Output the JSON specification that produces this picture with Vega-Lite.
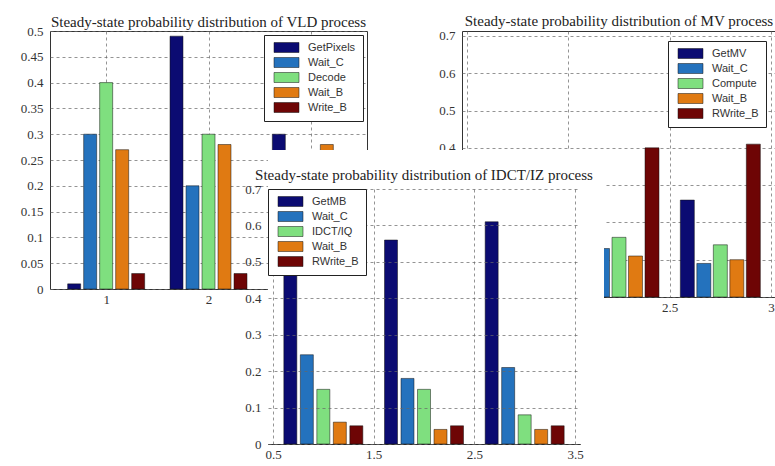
{
  "$schema": "https://vega.github.io/schema/vega-lite/v6.json",
  "background": "white",
  "padding": {"left": 19, "top": 13, "right": 0, "bottom": 0},
  "datasets": {
    "vld": [
      {"group": 1, "state": "GetPixels", "p": 0.01},
      {"group": 1, "state": "Wait_C", "p": 0.30},
      {"group": 1, "state": "Decode", "p": 0.40},
      {"group": 1, "state": "Wait_B", "p": 0.27},
      {"group": 1, "state": "Write_B", "p": 0.03},
      {"group": 2, "state": "GetPixels", "p": 0.49},
      {"group": 2, "state": "Wait_C", "p": 0.20},
      {"group": 2, "state": "Decode", "p": 0.30},
      {"group": 2, "state": "Wait_B", "p": 0.28},
      {"group": 2, "state": "Write_B", "p": 0.03},
      {"group": 3, "state": "GetPixels", "p": 0.30},
      {"group": 3, "state": "Wait_C", "p": 0.19},
      {"group": 3, "state": "Decode", "p": 0.20},
      {"group": 3, "state": "Wait_B", "p": 0.28},
      {"group": 3, "state": "Write_B", "p": 0.03}
    ],
    "mv": [
      {"group": 2.25, "state": "GetMV", "p": 0.28},
      {"group": 2.25, "state": "Wait_C", "p": 0.13},
      {"group": 2.25, "state": "Compute", "p": 0.16},
      {"group": 2.25, "state": "Wait_B", "p": 0.11},
      {"group": 2.25, "state": "RWrite_B", "p": 0.40},
      {"group": 2.75, "state": "GetMV", "p": 0.26},
      {"group": 2.75, "state": "Wait_C", "p": 0.09},
      {"group": 2.75, "state": "Compute", "p": 0.14},
      {"group": 2.75, "state": "Wait_B", "p": 0.10},
      {"group": 2.75, "state": "RWrite_B", "p": 0.41}
    ],
    "idct": [
      {"group": 1, "state": "GetMB", "p": 0.48},
      {"group": 1, "state": "Wait_C", "p": 0.245},
      {"group": 1, "state": "IDCT/IQ", "p": 0.15},
      {"group": 1, "state": "Wait_B", "p": 0.06},
      {"group": 1, "state": "RWrite_B", "p": 0.05},
      {"group": 2, "state": "GetMB", "p": 0.56},
      {"group": 2, "state": "Wait_C", "p": 0.18},
      {"group": 2, "state": "IDCT/IQ", "p": 0.15},
      {"group": 2, "state": "Wait_B", "p": 0.04},
      {"group": 2, "state": "RWrite_B", "p": 0.05},
      {"group": 3, "state": "GetMB", "p": 0.61},
      {"group": 3, "state": "Wait_C", "p": 0.21},
      {"group": 3, "state": "IDCT/IQ", "p": 0.08},
      {"group": 3, "state": "Wait_B", "p": 0.04},
      {"group": 3, "state": "RWrite_B", "p": 0.05}
    ]
  },
  "config": {
    "view": {"stroke": "#333", "strokeWidth": 1, "fill": "white"},
    "axis": {
      "labelFont": "Liberation Serif",
      "labelFontSize": 13,
      "labelColor": "#333",
      "domain": false,
      "ticks": false,
      "tickSize": 0,
      "grid": true,
      "gridColor": "#666",
      "gridDash": [3, 3],
      "gridOpacity": 0.7,
      "title": null
    },
    "axisY": {"labelPadding": 7},
    "axisX": {"labelPadding": 4},
    "title": {"font": "Liberation Serif", "fontSize": 15, "fontWeight": "normal", "color": "#222", "frame": "group"},
    "legend": {
      "labelFont": "Liberation Sans",
      "labelFontSize": 11,
      "labelColor": "#333",
      "fillColor": "white",
      "strokeColor": "#222",
      "padding": 7,
      "rowPadding": 2,
      "symbolOpacity": 1,
      "symbolStrokeColor": "#111",
      "symbolStrokeWidth": 0.5
    }
  },
  "bounds": "flush",
  "spacing": 158,
  "resolve": {"scale": {"color": "independent"}, "legend": {"color": "independent"}},
  "vconcat": [
    {
      "spacing": 70,
      "resolve": {"scale": {"color": "independent"}, "legend": {"color": "independent"}},
      "hconcat": [
        {
          "width": 317,
          "height": 258,
          "title": {"text": "Steady-state probability distribution of VLD process", "offset": -5},
          "data": {"name": "vld"},
          "encoding": {
            "x": {"field": "group", "type": "quantitative", "scale": {"domain": [0.5, 3.5], "nice": false, "zero": false}, "axis": {"values": [1, 2, 3], "format": "d"}},
            "y": {"field": "p", "type": "quantitative", "scale": {"domain": [0, 0.5], "nice": false}, "axis": {"values": [0, 0.05, 0.1, 0.15, 0.2, 0.25, 0.3, 0.35, 0.4, 0.45, 0.5], "format": ".2~f"}},
            "color": {
              "field": "state", "type": "nominal",
              "scale": {"domain": ["GetPixels", "Wait_C", "Decode", "Wait_B", "Write_B"], "range": ["#0b0b72", "#2472bd", "#7fdf7f", "#e07a12", "#6e0505"]},
              "legend": {"title": null, "orient": "top-right", "offset": 4, "symbolType": "M-2.5,-1H2.5V1H-2.5Z", "symbolSize": 100, "symbolOffset": 10, "labelOffset": 16}
            }
          },
          "layer": [
            {"transform": [{"filter": "datum.state == 'GetPixels'"}], "mark": {"type": "bar", "orient": "vertical", "size": 13, "xOffset": -32, "stroke": "#111", "strokeWidth": 0.5}},
            {"transform": [{"filter": "datum.state == 'Wait_C'"}], "mark": {"type": "bar", "orient": "vertical", "size": 13, "xOffset": -16, "stroke": "#111", "strokeWidth": 0.5}},
            {"transform": [{"filter": "datum.state == 'Decode'"}], "mark": {"type": "bar", "orient": "vertical", "size": 13, "xOffset": 0, "stroke": "#111", "strokeWidth": 0.5}},
            {"transform": [{"filter": "datum.state == 'Wait_B'"}], "mark": {"type": "bar", "orient": "vertical", "size": 13, "xOffset": 16, "stroke": "#111", "strokeWidth": 0.5}},
            {"transform": [{"filter": "datum.state == 'Write_B'"}], "mark": {"type": "bar", "orient": "vertical", "size": 13, "xOffset": 32, "stroke": "#111", "strokeWidth": 0.5}}
          ]
        },
        {
          "width": 314,
          "height": 266,
          "title": {"text": "Steady-state probability distribution of MV process", "offset": 1},
          "data": {"name": "mv"},
          "encoding": {
            "x": {"field": "group", "type": "quantitative", "scale": {"domain": [1.5, 3], "nice": false, "zero": false}, "axis": {"values": [1.5, 2, 2.5, 3], "format": "~g", "labelExpr": "datum.value >= 2.4 ? datum.label : ''"}},
            "y": {"field": "p", "type": "quantitative", "scale": {"domain": [0, 0.7134], "nice": false}, "axis": {"values": [0, 0.1, 0.2, 0.3, 0.4, 0.5, 0.6, 0.7], "format": ".1~f", "labelExpr": "datum.value >= 0.35 ? datum.label : ''"}},
            "color": {
              "field": "state", "type": "nominal",
              "scale": {"domain": ["GetMV", "Wait_C", "Compute", "Wait_B", "RWrite_B"], "range": ["#0b0b72", "#2472bd", "#7fdf7f", "#e07a12", "#6e0505"]},
              "legend": {"title": null, "orient": "top-right", "offset": 10, "symbolType": "M-2.5,-1H2.5V1H-2.5Z", "symbolSize": 100, "symbolOffset": 10, "labelOffset": 16}
            }
          },
          "layer": [
            {"transform": [{"filter": "datum.state == 'GetMV'"}], "mark": {"type": "bar", "orient": "vertical", "size": 14, "xOffset": -33, "stroke": "#111", "strokeWidth": 0.5}},
            {"transform": [{"filter": "datum.state == 'Wait_C'"}], "mark": {"type": "bar", "orient": "vertical", "size": 14, "xOffset": -16.5, "stroke": "#111", "strokeWidth": 0.5}},
            {"transform": [{"filter": "datum.state == 'Compute'"}], "mark": {"type": "bar", "orient": "vertical", "size": 14, "xOffset": 0, "stroke": "#111", "strokeWidth": 0.5}},
            {"transform": [{"filter": "datum.state == 'Wait_B'"}], "mark": {"type": "bar", "orient": "vertical", "size": 14, "xOffset": 16.5, "stroke": "#111", "strokeWidth": 0.5}},
            {"transform": [{"filter": "datum.state == 'RWrite_B'"}], "mark": {"type": "bar", "orient": "vertical", "size": 14, "xOffset": 33, "stroke": "#111", "strokeWidth": 0.5}}
          ]
        }
      ]
    },
    {
      "spacing": 0,
      "resolve": {"scale": {"color": "independent"}, "legend": {"color": "independent"}},
      "hconcat": [
        {
          "width": 194,
          "height": 1,
          "data": {"values": []},
          "mark": "point",
          "view": {"stroke": null, "fill": null}
        },
        {
          "width": 312,
          "height": 255,
          "title": {"text": "Steady-state probability distribution of IDCT/IZ process", "offset": -33, "zindex": 1},
          "data": {"name": "idct"},
          "layer": [
            {
              "data": {"values": [{}]},
              "mark": {"type": "rect", "color": "white", "xOffset": 24, "x2Offset": -42, "yOffset": -39, "y2Offset": 22}
            },
            {
              "encoding": {
                "x": {"field": "group", "type": "quantitative", "scale": {"domain": [0.5, 3.5], "nice": false, "zero": false}, "axis": {"values": [0.5, 1.5, 2.5, 3.5], "format": ".1f", "zindex": 1}},
                "y": {"field": "p", "type": "quantitative", "scale": {"domain": [0, 0.7], "nice": false}, "axis": {"values": [0, 0.1, 0.2, 0.3, 0.4, 0.5, 0.6, 0.7], "format": ".1~f", "zindex": 1}},
                "color": {
                  "field": "state", "type": "nominal",
                  "scale": {"domain": ["GetMB", "Wait_C", "IDCT/IQ", "Wait_B", "RWrite_B"], "range": ["#0b0b72", "#2472bd", "#7fdf7f", "#e07a12", "#6e0505"]},
                  "legend": {"title": null, "orient": "top-left", "offset": 0, "zindex": 2, "symbolType": "M-2.5,-1H2.5V1H-2.5Z", "symbolSize": 100, "symbolOffset": 10, "labelOffset": 16}
                }
              },
              "layer": [
                {"transform": [{"filter": "datum.state == 'GetMB'"}], "mark": {"type": "bar", "orient": "vertical", "size": 13, "xOffset": -33, "stroke": "#111", "strokeWidth": 0.5}},
                {"transform": [{"filter": "datum.state == 'Wait_C'"}], "mark": {"type": "bar", "orient": "vertical", "size": 13, "xOffset": -16.5, "stroke": "#111", "strokeWidth": 0.5}},
                {"transform": [{"filter": "datum.state == 'IDCT/IQ'"}], "mark": {"type": "bar", "orient": "vertical", "size": 13, "xOffset": 0, "stroke": "#111", "strokeWidth": 0.5}},
                {"transform": [{"filter": "datum.state == 'Wait_B'"}], "mark": {"type": "bar", "orient": "vertical", "size": 13, "xOffset": 16.5, "stroke": "#111", "strokeWidth": 0.5}},
                {"transform": [{"filter": "datum.state == 'RWrite_B'"}], "mark": {"type": "bar", "orient": "vertical", "size": 13, "xOffset": 33, "stroke": "#111", "strokeWidth": 0.5}}
              ]
            }
          ]
        }
      ]
    }
  ]
}
